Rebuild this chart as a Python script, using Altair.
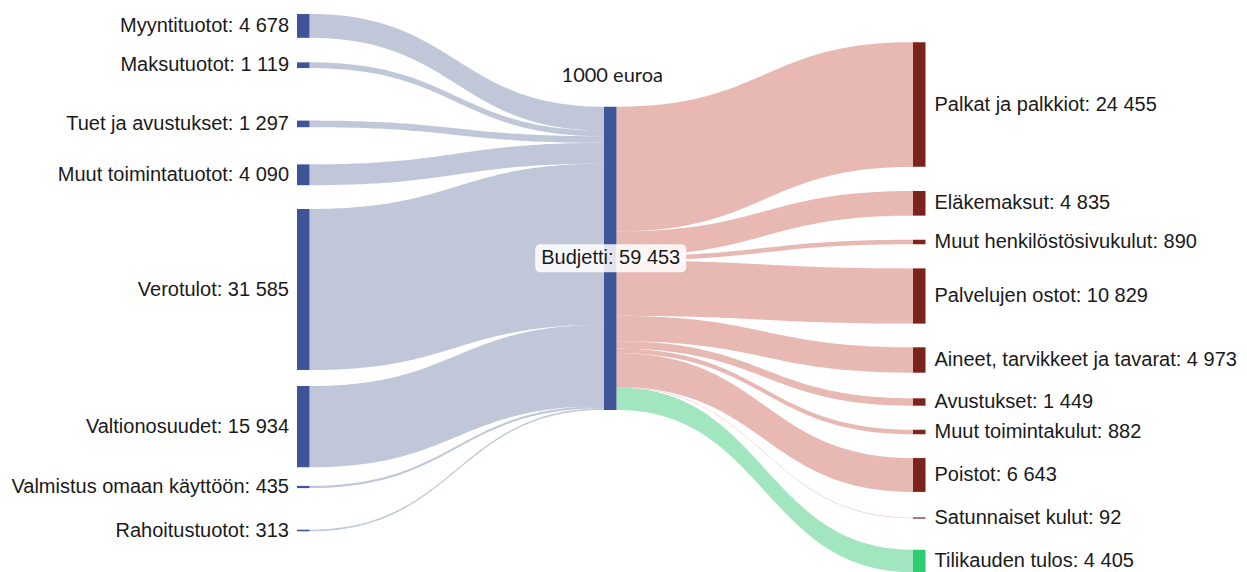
import altair as alt
import numpy as np
import pandas as pd

# ---------------- data ----------------
source_names = ["Myyntituotot", "Maksutuotot", "Tuet ja avustukset", "Muut toimintatuotot",
                "Verotulot", "Valtionosuudet", "Valmistus omaan käyttöön", "Rahoitustuotot"]
source_values = [4678, 1119, 1297, 4090, 31585, 15934, 435, 313]

hub_name = "Budjetti"
hub_value = 59453

target_names = ["Palkat ja palkkiot", "Eläkemaksut", "Muut henkilöstösivukulut", "Palvelujen ostot",
                "Aineet, tarvikkeet ja tavarat", "Avustukset", "Muut toimintakulut", "Poistot",
                "Satunnaiset kulut", "Tilikauden tulos"]
target_values = [24455, 4835, 890, 10829, 4973, 1449, 882, 6643, 92, 4405]
target_kind = ["kulu"] * 9 + ["tulos"]

unit_note = "1000 euroa"

# ---------------- layout (page pixels) ----------------
W, H = 1231, 564
COL_X = [297, 604, 913]
NODE_W = 12.5
PX_PER_UNIT = 0.0051
MIN_NODE_H = 1.2
source_centers = [25.9, 65.2, 123.9, 174.8, 289.5, 426.7, 487, 530.5]
hub_top = 106.7
target_centers = [104.5, 203.3, 242, 296, 360, 402, 432, 475, 518, 561]

NODE_COL = {"tulo": "#3f5597", "kulu": "#7b241c", "tulos": "#2ecc71"}
LINK_COL = {"tulo": "#94a2c0", "kulu": "#d98980", "tulos": "#64d596"}
FONT = "Liberation Sans"
FS = 20


def fmt(v):
    return f"{v:,}".replace(",", " ")


nodes = []
labels = []
for n, v, c in zip(source_names, source_values, source_centers):
    h = max(v * PX_PER_UNIT, MIN_NODE_H)
    nodes.append(dict(x=COL_X[0], x2=COL_X[0] + NODE_W, y=c - h / 2, y2=c + h / 2, fill=NODE_COL["tulo"]))
    labels.append(dict(x=COL_X[0] - 8, y=c, text=f"{n}: {fmt(v)}", side="L"))
hub_h = hub_value * PX_PER_UNIT
hub_c = hub_top + hub_h / 2
nodes.append(dict(x=COL_X[1], x2=COL_X[1] + NODE_W, y=hub_top, y2=hub_top + hub_h, fill=NODE_COL["tulo"]))
for n, v, c, k in zip(target_names, target_values, target_centers, target_kind):
    h = max(v * PX_PER_UNIT, MIN_NODE_H)
    nodes.append(dict(x=COL_X[2], x2=COL_X[2] + NODE_W, y=c - h / 2, y2=c + h / 2, fill=NODE_COL[k]))
    labels.append(dict(x=COL_X[2] + NODE_W + 9, y=c, text=f"{n}: {fmt(v)}", side="R"))
nodes_df = pd.DataFrame(nodes)
labels_df = pd.DataFrame(labels)

# ---------------- links (cubic bezier bands) ----------------
t = np.linspace(0, 1, 90)
rows = []


def band(lid, kind, x0, x1, a0, b0, a1, b1):
    xm = (x0 + x1) / 2
    xs = (1 - t) ** 3 * x0 + 3 * (1 - t) ** 2 * t * xm + 3 * (1 - t) * t ** 2 * xm + t ** 3 * x1
    s = 3 * t ** 2 - 2 * t ** 3
    for xx, ss in zip(xs, s):
        rows.append(dict(link=lid, fill=LINK_COL[kind], x=xx, y=a0 + (a1 - a0) * ss, y2=b0 + (b1 - b0) * ss))


acc = hub_top
for i, (v, c) in enumerate(zip(source_values, source_centers)):
    h = v * PX_PER_UNIT
    band(f"s{i}", "tulo", COL_X[0] + NODE_W, COL_X[1], c - h / 2, c + h / 2, acc, acc + h)
    acc += h
acc = hub_top
for j, (v, c, k) in enumerate(zip(target_values, target_centers, target_kind)):
    h = v * PX_PER_UNIT
    band(f"t{j}", k, COL_X[1] + NODE_W, COL_X[2], acc, acc + h, c - h / 2, c + h / 2)
    acc += h
links_df = pd.DataFrame(rows)

xs = alt.Scale(domain=[8, 8 + W], nice=False, zero=False)
ys = alt.Scale(domain=[8, 8 + H], nice=False, zero=False, reverse=True)

link_layer = alt.Chart(links_df).mark_area(opacity=0.6, strokeWidth=0).encode(
    x=alt.X("x:Q", scale=xs, axis=None),
    y=alt.Y("y:Q", scale=ys, axis=None),
    y2="y2:Q",
    color=alt.Color("fill:N", scale=None),
    detail="link:N",
)

node_layer = alt.Chart(nodes_df).mark_rect(strokeWidth=0).encode(
    x=alt.X("x:Q", scale=xs, axis=None), x2="x2:Q",
    y=alt.Y("y:Q", scale=ys, axis=None), y2="y2:Q",
    color=alt.Color("fill:N", scale=None),
)

left_text = alt.Chart(labels_df[labels_df.side == "L"]).mark_text(
    align="right", baseline="middle", font=FONT, fontSize=FS, color="#1a1a1a"
).encode(x=alt.X("x:Q", scale=xs, axis=None), y=alt.Y("y:Q", scale=ys, axis=None), text="text:N")

right_text = alt.Chart(labels_df[labels_df.side == "R"]).mark_text(
    align="left", baseline="middle", font=FONT, fontSize=FS, color="#1a1a1a"
).encode(x=alt.X("x:Q", scale=xs, axis=None), y=alt.Y("y:Q", scale=ys, axis=None), text="text:N")

hub_x = COL_X[1] + NODE_W / 2
hub_df = pd.DataFrame([dict(x=hub_x - 75, x2=hub_x + 76, y=hub_c - 14, y2=hub_c + 14,
                            tx=hub_x + 0.5, ty=hub_c, text=f"{hub_name}: {fmt(hub_value)}")])
hub_box = alt.Chart(hub_df).mark_rect(color="white", opacity=0.85, cornerRadius=5).encode(
    x=alt.X("x:Q", scale=xs, axis=None), x2="x2:Q",
    y=alt.Y("y:Q", scale=ys, axis=None), y2="y2:Q",
)
hub_text = alt.Chart(hub_df).mark_text(
    align="center", baseline="middle", font=FONT, fontSize=FS, color="#1a1a1a"
).encode(x=alt.X("tx:Q", scale=xs, axis=None), y=alt.Y("ty:Q", scale=ys, axis=None), text="text:N")

note_df = pd.DataFrame([dict(x=hub_x + 2, y=hub_top - 31, text=unit_note)])
note = alt.Chart(note_df).mark_text(
    align="center", baseline="middle", font="Lato", fontSize=20, color="#1a1a1a"
).encode(x=alt.X("x:Q", scale=xs, axis=None), y=alt.Y("y:Q", scale=ys, axis=None), text="text:N")

chart = alt.layer(link_layer, node_layer, left_text, right_text, hub_box, hub_text, note).properties(
    width=W, height=H, padding=0
).configure_view(stroke=None)

chart.save("out.html", embed_options={"renderer": "svg", "actions": False})
